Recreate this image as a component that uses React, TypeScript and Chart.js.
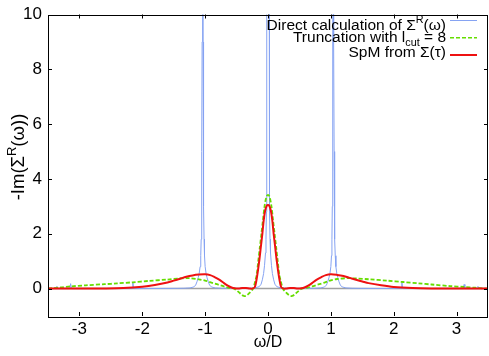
import React, { useEffect, useRef } from 'react';
import { Chart, registerables } from 'chart.js';

Chart.register(...registerables);

const FONT = "'Liberation Sans', Arial, Helvetica, sans-serif";

const xTicks = [-3, -2, -1, 0, 1, 2, 3];
const yTicks = [0, 2, 4, 6, 8, 10];

const seriesLabels = [
  'Direct calculation of Σ^R(ω)',
  'Truncation with l_cut = 8',
  'SpM from Σ(τ)',
];

// Direct calculation of Sigma^R(omega)
const directX = [
  -3.5, -3.372, -3.36, -3.348, -3.152, -3.14, -3.128, -2.162, -2.15, -2.138,
  -1.7, -1.45, -1.34, -1.24, -1.18, -1.15, -1.13, -1.11, -1.095, -1.08,
  -1.07, -1.063, -1.057, -1.052, -1.048, -1.044, -1.04, -1.036, -1.032, -1.028,
  -1.023, -1.017, -1.01, -1.0, -0.985, -0.97, -0.95, -0.93, -0.9, -0.84,
  -0.74, -0.5, -0.3, -0.2, -0.14, -0.11, -0.09, -0.07, -0.055, -0.04,
  -0.032, -0.026, -0.022, -0.018, -0.01, 0,
  0.01, 0.018, 0.022, 0.026, 0.032, 0.04, 0.055, 0.07, 0.09, 0.11,
  0.14, 0.2, 0.3, 0.5, 0.74, 0.84, 0.9, 0.93, 0.95, 0.97,
  0.985, 1.0, 1.01, 1.017, 1.023, 1.028, 1.032, 1.036, 1.04, 1.044,
  1.048, 1.052, 1.057, 1.063, 1.07, 1.08, 1.095, 1.11, 1.13, 1.15,
  1.18, 1.24, 1.34, 1.45, 1.7, 2.118, 2.13, 2.142, 3.108, 3.12,
  3.132, 3.328, 3.34, 3.352, 3.5,
];
const directY = [
  0, 0, 0.08, 0, 0, 0.18, 0, 0, 0.22, 0,
  0.004, 0.008, 0.012, 0.025, 0.06, 0.13, 0.25, 0.4, 0.55, 0.8,
  1.2, 1.8, 3.0, 5.0, 9, 20, 60, 20, 9, 5.0,
  3.0, 1.8, 1.2, 0.8, 0.55, 0.4, 0.25, 0.13, 0.06, 0.025,
  0.012, 0.008, 0.01, 0.03, 0.07, 0.16, 0.32, 0.55, 0.85, 1.3,
  1.8, 2.8, 6, 15, 30, 40,
  30, 15, 6, 2.8, 1.8, 1.3, 0.85, 0.55, 0.32, 0.16,
  0.07, 0.03, 0.01, 0.008, 0.012, 0.025, 0.06, 0.13, 0.25, 0.4,
  0.55, 0.8, 1.2, 1.8, 3.0, 5.0, 9, 20, 60, 20,
  9, 5.0, 3.0, 1.8, 1.2, 0.8, 0.55, 0.4, 0.25, 0.13,
  0.06, 0.025, 0.012, 0.008, 0.004, 0, 0.22, 0, 0, 0.15,
  0, 0, 0.08, 0, 0,
];

// Truncation with l_cut = 8
const truncX = [
  -3.5, -3.3, -3.14, -2.9, -2.6, -2.4, -2.15, -1.9, -1.6, -1.4,
  -1.25, -1.1, -1.0, -0.9, -0.8, -0.7, -0.62, -0.54, -0.48, -0.43,
  -0.385, -0.34, -0.29, -0.237, -0.2, -0.18, -0.155, -0.13, -0.105, -0.08,
  -0.055, -0.025, 0, 0.025, 0.055, 0.08, 0.105, 0.13, 0.155, 0.18,
  0.2, 0.237, 0.29, 0.34, 0.385, 0.43, 0.48, 0.54, 0.62, 0.7,
  0.8, 0.9, 1.0, 1.1, 1.25, 1.4, 1.6, 1.9, 2.15, 2.4,
  2.6, 2.9, 3.12, 3.3, 3.45, 3.5,
];
const truncY = [
  0.0, 0.04, 0.08, 0.12, 0.16, 0.19, 0.23, 0.28, 0.33, 0.37,
  0.38, 0.34, 0.29, 0.22, 0.15, 0.08, 0.03, 0.0, -0.1, -0.2,
  -0.27, -0.25, -0.15, 0.0, 0.3, 0.5, 1.0, 1.5, 2.0, 2.5,
  3.0, 3.35, 3.42, 3.35, 3.0, 2.5, 2.0, 1.5, 1.0, 0.5,
  0.3, 0.0, -0.15, -0.25, -0.27, -0.2, -0.1, 0.0, 0.03, 0.08,
  0.15, 0.22, 0.3, 0.35, 0.38, 0.37, 0.34, 0.29, 0.24, 0.19,
  0.15, 0.09, 0.06, 0.03, 0.0, -0.01,
];

// SpM from Sigma(tau)
const spmX = [
  -3.5, -3.0, -2.6, -2.3, -2.0, -1.8, -1.6, -1.5, -1.4, -1.3,
  -1.2, -1.1, -1.0, -0.92, -0.85, -0.77, -0.7, -0.64, -0.58, -0.53,
  -0.47, -0.41, -0.35, -0.29, -0.25, -0.21, -0.17, -0.14, -0.115, -0.09,
  -0.068, -0.045, -0.02, 0, 0.02, 0.045, 0.068, 0.09, 0.115, 0.14,
  0.17, 0.21, 0.25, 0.29, 0.35, 0.41, 0.47, 0.53, 0.58, 0.64,
  0.7, 0.77, 0.85, 0.92, 1.0, 1.1, 1.2, 1.3, 1.4, 1.5,
  1.6, 1.8, 2.0, 2.3, 2.6, 3.0, 3.5,
];
const spmY = [
  0, 0.0, 0.005, 0.02, 0.07, 0.13, 0.22, 0.29, 0.36, 0.43,
  0.48, 0.51, 0.52, 0.49, 0.42, 0.32, 0.2, 0.11, 0.04, 0.01,
  0.0, 0.02, 0.02, 0.0, 0.0, 0.05, 0.5, 1.0, 1.5, 2.0,
  2.5, 2.85, 3.02, 3.05, 3.02, 2.85, 2.5, 2.0, 1.5, 1.0,
  0.5, 0.05, 0.0, 0.0, 0.02, 0.02, 0.0, 0.01, 0.04, 0.11,
  0.2, 0.32, 0.42, 0.49, 0.52, 0.5, 0.46, 0.39, 0.32, 0.26,
  0.2, 0.12, 0.06, 0.02, 0.005, 0.0, 0,
];

const COLORS = ['#86a3f2', '#66dd00', '#ee1111'];

type Seg = { t: string; k: 'n' | 'sup' | 'sub' };

function parseRich(s: string): Seg[] {
  const out: Seg[] = [];
  let i = 0;
  let buf = '';
  while (i < s.length) {
    const c = s[i];
    if (c === '^' || c === '_') {
      if (buf) out.push({ t: buf, k: 'n' });
      buf = '';
      let j = i + 1;
      let w = '';
      while (j < s.length && /[A-Za-z0-9]/.test(s[j])) { w += s[j]; j++; }
      out.push({ t: w, k: c === '^' ? 'sup' : 'sub' });
      i = j;
    } else {
      buf += c;
      i++;
    }
  }
  if (buf) out.push({ t: buf, k: 'n' });
  return out;
}

function richWidth(ctx: CanvasRenderingContext2D, segs: Seg[], size: number) {
  let w = 0;
  for (const s of segs) {
    ctx.font = `${s.k === 'n' ? size : size * 0.7}px ${FONT}`;
    w += ctx.measureText(s.t).width;
  }
  return w;
}

function drawRich(ctx: CanvasRenderingContext2D, segs: Seg[], x: number, y: number, size: number) {
  let cx = x;
  ctx.textBaseline = 'alphabetic';
  ctx.textAlign = 'left';
  for (const s of segs) {
    const fs = s.k === 'n' ? size : size * 0.7;
    ctx.font = `${fs}px ${FONT}`;
    const dy = s.k === 'sup' ? -size * 0.45 : s.k === 'sub' ? size * 0.3 : 0;
    ctx.fillText(s.t, cx, y + dy);
    cx += ctx.measureText(s.t).width;
  }
}

const decorPlugin = {
  id: 'decor',
  beforeDatasetsDraw(chart: any) {
    const { ctx, chartArea: a, scales } = chart;
    const y0 = scales.y.getPixelForValue(0);
    ctx.save();
    ctx.strokeStyle = '#a0a0a0';
    ctx.lineWidth = 1.5;
    ctx.beginPath();
    ctx.moveTo(a.left, y0);
    ctx.lineTo(a.right, y0);
    ctx.stroke();
    ctx.restore();
  },
  afterDraw(chart: any) {
    const { ctx, chartArea: a, scales } = chart;
    ctx.save();
    ctx.strokeStyle = '#000';
    ctx.lineWidth = 1;
    ctx.strokeRect(Math.round(a.left) + 0.5, Math.round(a.top) + 0.5, Math.round(a.right - a.left) - 1, Math.round(a.bottom - a.top));
    const tl = 4;
    ctx.beginPath();
    for (const v of xTicks) {
      const px = Math.round(scales.x.getPixelForValue(v)) + 0.5;
      ctx.moveTo(px, a.bottom); ctx.lineTo(px, a.bottom - tl);
      ctx.moveTo(px, a.top); ctx.lineTo(px, a.top + tl);
    }
    for (const v of yTicks) {
      const py = Math.round(scales.y.getPixelForValue(v)) + 0.5;
      ctx.moveTo(a.left, py); ctx.lineTo(a.left + tl, py);
      ctx.moveTo(a.right, py); ctx.lineTo(a.right - tl, py);
    }
    ctx.stroke();

    ctx.fillStyle = '#000';
    const xt = parseRich('ω/D');
    const xw = richWidth(ctx, xt, 16);
    drawRich(ctx, xt, (a.left + a.right) / 2 - xw / 2, 347, 16);
    const yt = parseRich('-Im(Σ^R(ω))');
    const yw = richWidth(ctx, yt, 18.5);
    ctx.save();
    ctx.translate(24, 157);
    ctx.rotate(-Math.PI / 2);
    drawRich(ctx, yt, -yw / 2, 0, 18.5);
    ctx.restore();

    const textRight = 446;
    const sampleL = 450;
    const sampleR = 477;
    const baselines = [30, 41.5, 56.5];
    const sampleY = [20.5, 37.7, 55];
    const widths = [1, 1.5, 2];
    seriesLabels.forEach((lab, i) => {
      const segs = parseRich(lab);
      const w = richWidth(ctx, segs, 15.5);
      ctx.fillStyle = '#000';
      drawRich(ctx, segs, textRight - w, baselines[i], 15.5);
      ctx.strokeStyle = COLORS[i];
      ctx.lineWidth = widths[i];
      ctx.setLineDash(i === 1 ? [4, 2] : []);
      ctx.beginPath();
      ctx.moveTo(sampleL, sampleY[i]);
      ctx.lineTo(sampleR, sampleY[i]);
      ctx.stroke();
    });
    ctx.setLineDash([]);
    ctx.restore();
  },
};

function pts(xs: number[], ys: number[]) {
  return xs.map((x, i) => ({ x, y: ys[i] }));
}

export default function App() {
  const ref = useRef<HTMLCanvasElement | null>(null);
  useEffect(() => {
    if (!ref.current) return;
    const chart = new Chart(ref.current, {
      type: 'line',
      data: {
        datasets: [
          {
            label: seriesLabels[0],
            data: pts(directX, directY),
            borderColor: COLORS[0],
            borderWidth: 1,
            pointRadius: 0,
            tension: 0,
            order: 3,
          },
          {
            label: seriesLabels[1],
            data: pts(truncX, truncY),
            borderColor: COLORS[1],
            borderWidth: 1.8,
            borderDash: [4, 2],
            pointRadius: 0,
            tension: 0.3,
            order: 2,
          },
          {
            label: seriesLabels[2],
            data: pts(spmX, spmY),
            borderColor: COLORS[2],
            borderWidth: 2,
            pointRadius: 0,
            tension: 0.3,
            order: 1,
          },
        ],
      },
      options: {
        animation: false,
        responsive: false,
        devicePixelRatio: 1,
        layout: { padding: { top: 9, right: 1, left: 0, bottom: 0 } },
        plugins: { legend: { display: false }, tooltip: { enabled: false } },
        scales: {
          x: {
            type: 'linear',
            min: -3.5,
            max: 3.5,
            afterBuildTicks: (s: any) => { s.ticks = xTicks.map((v) => ({ value: v })); },
            afterFit: (s: any) => { s.height = 40; },
            grid: { display: false, drawTicks: false, tickLength: 0 },
            border: { display: false },
            ticks: { color: '#000', font: { family: FONT, size: 17, lineHeight: 1 }, padding: 5, maxRotation: 0, autoSkip: false },
          },
          y: {
            type: 'linear',
            min: -1,
            max: 10,
            afterBuildTicks: (s: any) => { s.ticks = yTicks.map((v) => ({ value: v })); },
            afterFit: (s: any) => { s.width = 48; },
            grid: { display: false, drawTicks: false, tickLength: 0 },
            border: { display: false },
            ticks: { color: '#000', font: { family: FONT, size: 17, lineHeight: 1 }, padding: 6, autoSkip: false },
          },
        },
      },
      plugins: [decorPlugin],
    });
    return () => chart.destroy();
  }, []);
  return (
    <div style={{ position: 'fixed', left: 0, top: 0, width: 489, height: 356, background: '#fff' }}>
      <canvas ref={ref} width={489} height={356} style={{ display: 'block' }} />
    </div>
  );
}
